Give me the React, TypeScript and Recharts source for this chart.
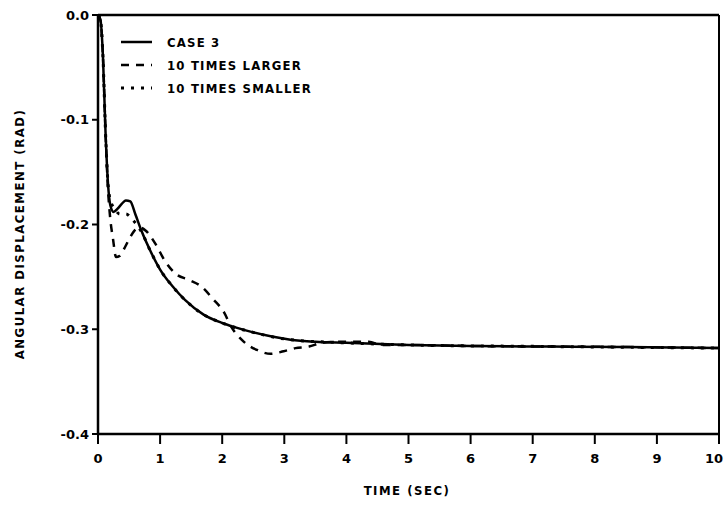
import { LineChart, Line, XAxis, YAxis, ReferenceLine } from 'recharts';

// time (sec) and angular displacement (rad)
const case3Time = [0, 0.04, 0.08, 0.12, 0.16, 0.2, 0.25, 0.33, 0.45, 0.52, 0.6, 0.7, 0.85, 1.0, 1.2, 1.4, 1.7, 2.0, 2.2, 2.5, 2.8, 3.1, 3.5, 4.0, 5.0, 6.0, 7.3, 8.5, 10];
const case3Disp = [0, -0.005, -0.04, -0.11, -0.16, -0.182, -0.188, -0.184, -0.177, -0.178, -0.19, -0.206, -0.226, -0.243, -0.259, -0.272, -0.286, -0.294, -0.298, -0.303, -0.307, -0.31, -0.312, -0.313, -0.315, -0.316, -0.3165, -0.317, -0.318];

const largerTime = [0, 0.04, 0.08, 0.12, 0.16, 0.2, 0.24, 0.29, 0.35, 0.44, 0.52, 0.6, 0.68, 0.77, 0.93, 1.07, 1.25, 1.47, 1.66, 1.85, 2.03, 2.14, 2.35, 2.57, 2.78, 2.99, 3.18, 3.4, 3.6, 3.93, 4.36, 4.57, 5.0, 6.0, 7.3, 8.5, 10];
const largerDisp = [0, -0.005, -0.04, -0.11, -0.165, -0.196, -0.213, -0.231, -0.23, -0.221, -0.212, -0.205, -0.203, -0.206, -0.219, -0.234, -0.247, -0.253, -0.259, -0.271, -0.284, -0.297, -0.312, -0.32, -0.3235, -0.321, -0.318, -0.3165, -0.313, -0.312, -0.312, -0.315, -0.315, -0.316, -0.3165, -0.317, -0.318];

const smallerTime = [0, 0.04, 0.08, 0.12, 0.16, 0.2, 0.27, 0.35, 0.45, 0.55, 0.7, 0.85, 1.0, 1.2, 1.4, 1.7, 2.0, 2.5, 3.1, 4.0, 5.0, 7.3, 10];
const smallerDisp = [0, -0.005, -0.04, -0.11, -0.16, -0.177, -0.185, -0.19, -0.19, -0.195, -0.207, -0.226, -0.243, -0.259, -0.272, -0.286, -0.294, -0.303, -0.31, -0.313, -0.315, -0.3165, -0.318];

const xTicks = [0, 1, 2, 3, 4, 5, 6, 7, 8, 9, 10];
const yTicks = [0, -0.1, -0.2, -0.3, -0.4];

const legendLabels = ['CASE 3', '10 TIMES LARGER', '10 TIMES SMALLER'];

const toPoints = (t: number[], v: number[]) => t.map((time, i) => ({ time, disp: v[i] }));

const FONT = "'DejaVu Sans Condensed', 'Liberation Sans Narrow', sans-serif";
const TICK_FONT = "'DejaVu Sans', sans-serif";

// x tick; the last label is nudged left so it stays inside the picture
function TimeTick(props: any) {
  const { x, y, payload } = props;
  const last = payload.value === xTicks[xTicks.length - 1];
  return (
    <text
      x={last ? x - 5 : x}
      y={y}
      dy={10}
      textAnchor="middle"
      fontFamily={TICK_FONT}
      fontSize={13}
      fontWeight={700}
      fill="#000"
    >
      {payload.value}
    </text>
  );
}

export default function App() {
  const tickStyle = { fontFamily: TICK_FONT, fontSize: 13, fontWeight: 700, fill: '#000' };

  return (
    <div style={{ position: 'absolute', left: 0, top: 0, width: 726, height: 507, background: '#fff' }}>
      <LineChart width={726} height={507} margin={{ top: 15, right: 7, bottom: 38, left: 0 }}>
        <XAxis
          type="number"
          dataKey="time"
          domain={[0, 10]}
          ticks={xTicks}
          interval={0}
          tickSize={10}
          tickMargin={9}
          height={35}
          axisLine={{ stroke: '#000', strokeWidth: 2.5 }}
          tickLine={{ stroke: '#000', strokeWidth: 2 }}
          tick={<TimeTick />}
        />
        <YAxis
          type="number"
          dataKey="disp"
          domain={[-0.4, 0]}
          ticks={yTicks}
          interval={0}
          width={98}
          tickSize={6}
          tickMargin={3}
          axisLine={{ stroke: '#000', strokeWidth: 2.5 }}
          tickLine={{ stroke: '#000', strokeWidth: 2 }}
          tick={tickStyle}
          tickFormatter={(v: number) => (v === 0 ? '0.0' : v.toFixed(1))}
        />
        <ReferenceLine y={0} stroke="#000" strokeWidth={2.5} />
        <ReferenceLine x={10} stroke="#000" strokeWidth={2} />
        <Line
          data={toPoints(largerTime, largerDisp)}
          dataKey="disp"
          type="monotone"
          stroke="#000"
          strokeWidth={2.5}
          strokeDasharray="8 7"
          dot={false}
          isAnimationActive={false}
        />
        <Line
          data={toPoints(smallerTime, smallerDisp)}
          dataKey="disp"
          type="monotone"
          stroke="#000"
          strokeWidth={3}
          strokeDasharray="3 7"
          dot={false}
          isAnimationActive={false}
        />
        <Line
          data={toPoints(case3Time, case3Disp)}
          dataKey="disp"
          type="monotone"
          stroke="#000"
          strokeWidth={2.5}
          dot={false}
          isAnimationActive={false}
        />
      </LineChart>

      {/* legend and axis titles */}
      <svg width={726} height={507} style={{ position: 'absolute', left: 0, top: 0, pointerEvents: 'none' }}>
        <g fontFamily={FONT} fontSize={13} fontWeight={700} fill="#000">
          <line x1={121} x2={152} y1={42} y2={42} stroke="#000" strokeWidth={2.5} />
          <text x={167} y={47} letterSpacing={1.2}>{legendLabels[0]}</text>
          <line x1={121} x2={152} y1={65} y2={65} stroke="#000" strokeWidth={2.5} strokeDasharray="8 7" />
          <text x={167} y={70} letterSpacing={1.2}>{legendLabels[1]}</text>
          <line x1={121} x2={152} y1={88} y2={88} stroke="#000" strokeWidth={3} strokeDasharray="3 7" />
          <text x={167} y={93} letterSpacing={1.2}>{legendLabels[2]}</text>

          <text x={407} y={495} textAnchor="middle" letterSpacing={1.5}>TIME (SEC)</text>
          <text
            x={24}
            y={234}
            textAnchor="middle"
            letterSpacing={1.5}
            transform="rotate(-90 24 234)"
          >
            ANGULAR DISPLACEMENT (RAD)
          </text>
        </g>
      </svg>
    </div>
  );
}
